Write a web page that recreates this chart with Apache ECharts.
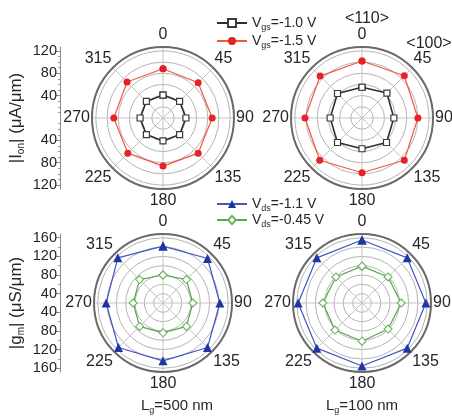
<!DOCTYPE html>
<html>
<head>
<meta charset="utf-8">
<script src="https://cdn.jsdelivr.net/npm/echarts@6/dist/echarts.min.js"></script>
<style>
  html, body { margin: 0; padding: 0; background: #fff; }
  #chart { width: 452px; height: 417px; }
</style>
</head>
<body>
<div id="chart"></div>
<script>
// Crystal orientation (deg) of each measured device
const angles = [0, 45, 90, 135, 180, 225, 270, 315];
const angleTickLabels = ['0', '45', '90', '135', '180', '225', '270', '315'];

// |Ion| (uA/um), Lg = 500 nm
const ionLong_vgs10 = [41, 42, 41, 42, 41, 42, 41, 42];
const ionLong_vgs15 = [88, 89, 88, 89, 86, 89, 88, 91];
// |Ion| (uA/um), Lg = 100 nm
const ionShort_vgs10 = [55, 63, 57, 62, 55, 62, 57, 62];
const ionShort_vgs15 = [102, 107, 100, 107, 98, 107, 102, 106];

// |gm| (uS/um), Lg = 500 nm
const gmLong_vds11 = [142, 155, 142, 155, 144, 155, 142, 157];
const gmLong_vds045 = [80, 91, 84, 91, 84, 91, 84, 91];
// |gm| (uS/um), Lg = 100 nm
const gmShort_vds11 = [155, 157, 157, 157, 155, 157, 157, 157];
const gmShort_vds045 = [99, 99, 104, 99, 102, 102, 104, 99];

// Radial scale tick labels
const ionTicks = [40, 80, 120];
const ionMinorTicks = [10, 20, 30, 50, 60, 70, 90, 100, 110];
const gmTicks = [40, 80, 120, 160];
const gmMinorTicks = [60, 100, 140];

const FONT = '"Liberation Sans", Arial, sans-serif';
const TXT = '#262626';

const ionRange = { min: 0, max: 127 };
const gmRange = { min: 20, max: 168 };

// closed polygon: repeat first orientation at 360
function ring(vals) {
  return angles.map((a, i) => [vals[i], a]).concat([[vals[0], 360]]);
}

function polarCfg(cx, cy, r) {
  return { center: [cx, cy], radius: r };
}

function angleAxisCfg(idx) {
  return {
    polarIndex: idx,
    type: 'value', min: 0, max: 360, interval: 45,
    startAngle: 90, clockwise: true,
    axisLine: { lineStyle: { color: '#6a6a6a', width: 2 } },
    axisTick: { show: false },
    splitLine: { lineStyle: { color: '#c4c4c4', width: 1 } },
    axisLabel: {
      margin: 2, fontSize: 16, fontFamily: FONT, color: TXT,
      formatter: function (v) {
        const i = angles.indexOf(v);
        if (i < 0) return '';
        if (v === 0) return '{t|' + angleTickLabels[i] + '}';
        if (v === 180) return '{b|' + angleTickLabels[i] + '}';
        return angleTickLabels[i];
      },
      rich: {
        t: { fontSize: 16, fontFamily: FONT, color: TXT, padding: [0, 0, 2, 0] },
        b: { fontSize: 16, fontFamily: FONT, color: TXT, padding: [2, 0, 0, 0] }
      }
    }
  };
}

function radiusAxisCfg(idx, range) {
  return {
    polarIndex: idx,
    type: 'value', min: range.min, max: range.max, interval: 20,
    axisLine: { show: false },
    axisTick: { show: false },
    axisLabel: { show: false },
    splitLine: { lineStyle: { color: '#b4b4b4', width: 1 } }
  };
}

function mirror(list, offset) {
  const out = [];
  list.forEach(v => { out.push(v - offset); out.push(-(v - offset)); });
  return out;
}

const sub = { fontSize: 9, fontWeight: 'normal', fontFamily: FONT, color: TXT, padding: [9, 0, 0, 0] };
const main14 = { fontSize: 14, fontWeight: 'normal', fontFamily: FONT, color: TXT };
const main15 = { fontSize: 15, fontWeight: 'normal', fontFamily: FONT, color: TXT };
const nameMain = { fontSize: 17, fontWeight: 'normal', fontFamily: FONT, color: TXT };
const nameSub = { fontSize: 10, fontWeight: 'normal', fontFamily: FONT, color: TXT, padding: [9, 0, 0, 0] };

function leftScale(gridIdx, range, ticks, minors, name) {
  const span = range.max - range.min;
  const major = {
    gridIndex: gridIdx, type: 'value', position: 'left',
    min: -span, max: span,
    axisLine: { show: true, lineStyle: { color: '#8a8a8a', width: 1 } },
    axisTick: { show: true, length: 4, customValues: mirror(ticks, range.min), lineStyle: { color: '#8a8a8a' } },
    axisLabel: {
      show: true, margin: 3, fontSize: 14.5, fontFamily: FONT, color: TXT,
      customValues: mirror(ticks, range.min),
      formatter: v => String(Math.round(Math.abs(v) + range.min))
    },
    splitLine: { show: false },
    name: name,
    nameLocation: 'middle', nameRotate: 90, nameGap: 34,
    nameTextStyle: {
      fontSize: 17, fontFamily: FONT, color: TXT,
      rich: { a: nameMain, s: nameSub }
    }
  };
  const minor = {
    gridIndex: gridIdx, type: 'value', position: 'left',
    min: -span, max: span,
    axisLine: { show: false },
    axisTick: { show: true, length: 2, customValues: mirror(minors, range.min), lineStyle: { color: '#9a9a9a' } },
    axisLabel: { show: false },
    splitLine: { show: false }
  };
  return [major, minor];
}

const NAME_I10 = 'Vgs=-1.0 V', NAME_I15 = 'Vgs=-1.5 V';
const NAME_G11 = 'Vds=-1.1 V', NAME_G045 = 'Vds=-0.45 V';

const legendRich = {
  a: main14,
  s: sub
};
function legendFormatter(n) {
  const m = n.match(/^V(gs|ds)(=.*)$/);
  return '{a|V}{s|' + m[1] + '}{a|' + m[2] + '}';
}

const styleI10 = {
  lineStyle: { color: '#2e2e2e', width: 1.6 },
  symbol: 'rect', symbolSize: 6,
  itemStyle: { color: '#ffffff', borderColor: '#3a3a3a', borderWidth: 1.2 }
};
const styleI15 = {
  lineStyle: { color: '#ee5a3c', width: 1.2 },
  symbol: 'circle', symbolSize: 7,
  itemStyle: { color: '#e3222a', borderColor: '#e3222a', borderWidth: 0 }
};
const styleG11 = {
  lineStyle: { color: '#4356bb', width: 1.2 },
  symbol: 'triangle', symbolSize: 9,
  itemStyle: { color: '#1d36a3', borderColor: '#1d36a3', borderWidth: 0 }
};
const styleG045 = {
  lineStyle: { color: '#56a84a', width: 1.2 },
  symbol: 'diamond', symbolSize: 8,
  itemStyle: { color: '#ffffff', borderColor: '#6cb55e', borderWidth: 1.1 }
};

function series(name, polarIndex, vals, st) {
  return Object.assign({
    name: name, type: 'line', coordinateSystem: 'polar', polarIndex: polarIndex,
    data: ring(vals), smooth: false, animation: false, z: 3
  }, st);
}

const [ionMajor, ionMinor] = leftScale(0, ionRange, ionTicks, ionMinorTicks, '{a||I}{s|on}{a|| (μA/μm)}');
const [gmMajor, gmMinor] = leftScale(1, gmRange, gmTicks, gmMinorTicks, '{a||g}{s|m}{a|| (μS/μm)}');

const option = {
  backgroundColor: '#ffffff',
  animation: false,
  textStyle: { fontFamily: FONT },
  polar: [
    polarCfg(163, 118, 71),
    polarCfg(362, 118, 71),
    polarCfg(163, 303, 69),
    polarCfg(362, 303, 69)
  ],
  angleAxis: [angleAxisCfg(0), angleAxisCfg(1), angleAxisCfg(2), angleAxisCfg(3)],
  radiusAxis: [
    radiusAxisCfg(0, ionRange), radiusAxisCfg(1, ionRange),
    radiusAxisCfg(2, gmRange), radiusAxisCfg(3, gmRange)
  ],
  grid: [
    { left: 60, top: 47, width: 1, height: 142 },
    { left: 60, top: 234, width: 1, height: 138 }
  ],
  xAxis: [
    { gridIndex: 0, type: 'value', show: false },
    { gridIndex: 1, type: 'value', show: false }
  ],
  yAxis: [ionMajor, ionMinor, gmMajor, gmMinor],
  legend: [
    {
      data: [NAME_I10, NAME_I15], orient: 'vertical', left: 211, top: 11,
      itemWidth: 30, itemHeight: 10, itemGap: 2,
      formatter: legendFormatter, textStyle: { rich: legendRich }
    },
    {
      data: [NAME_G11, NAME_G045], orient: 'vertical', left: 211, top: 192,
      itemWidth: 30, itemHeight: 10, itemGap: 0,
      formatter: legendFormatter, textStyle: { rich: legendRich }
    }
  ],
  title: [
    { text: '<110>', left: 362, top: 6, textAlign: 'center',
      textStyle: { fontSize: 16, fontWeight: 'normal', fontFamily: FONT, color: TXT } },
    { text: '<100>', left: 424, top: 31, textAlign: 'center',
      textStyle: { fontSize: 16, fontWeight: 'normal', fontFamily: FONT, color: TXT } },
    { text: '{a|L}{s|g}{a|=500 nm}', left: 172, top: 392, textAlign: 'center',
      textStyle: { fontWeight: 'normal', rich: { a: main15, s: sub } } },
    { text: '{a|L}{s|g}{a|=100 nm}', left: 357, top: 392, textAlign: 'center',
      textStyle: { fontWeight: 'normal', rich: { a: main15, s: sub } } }
  ],
  series: [
    series(NAME_I15, 0, ionLong_vgs15, styleI15),
    series(NAME_I10, 0, ionLong_vgs10, styleI10),
    series(NAME_I15, 1, ionShort_vgs15, styleI15),
    series(NAME_I10, 1, ionShort_vgs10, styleI10),
    series(NAME_G11, 2, gmLong_vds11, styleG11),
    series(NAME_G045, 2, gmLong_vds045, styleG045),
    series(NAME_G11, 3, gmShort_vds11, styleG11),
    series(NAME_G045, 3, gmShort_vds045, styleG045)
  ]
};

const chart = echarts.init(document.getElementById('chart'), null, { renderer: 'canvas' });
chart.setOption(option);
</script>
</body>
</html>
